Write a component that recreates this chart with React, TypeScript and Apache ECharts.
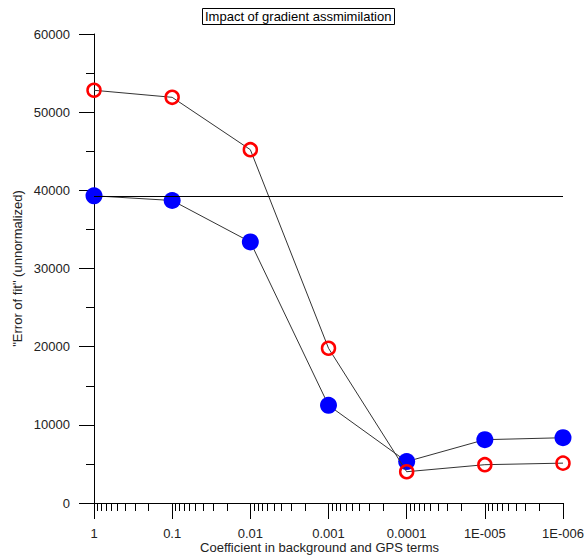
import React, { useEffect, useRef } from "react";
import * as echarts from "echarts";

const coefficients = [1, 0.1, 0.01, 0.001, 0.0001, 0.00001, 0.000001];
const xTickLabels = ["1", "0.1", "0.01", "0.001", "0.0001", "1E-005", "1E-006"];
const withGradient = [39300, 38700, 33400, 12500, 5300, 8100, 8350];
const withoutGradient = [52800, 51900, 45200, 19800, 4000, 4900, 5100];
const minorMultipliers = [9, 8, 7, 6, 5, 4, 3, 2];

const FONT = "Liberation Sans, Arial, sans-serif";
const FS = 13;

export default function App() {
  const ref = useRef<HTMLDivElement>(null);
  useEffect(() => {
    if (!ref.current) return;
    const chart = echarts.init(ref.current, null, { renderer: "svg" });
    const toX = (c: number) => -Math.log10(c);
    const minorTicks: number[] = [];
    for (let d = 0; d < 6; d++) {
      for (const k of minorMultipliers) minorTicks.push(toX(k * Math.pow(10, -(d + 1))));
    }
    const blueData = coefficients.map((c, i) => [toX(c), withGradient[i]]);
    const redData = coefficients.map((c, i) => [toX(c), withoutGradient[i]]);
    chart.setOption({
      animation: false,
      backgroundColor: "#ffffff",
      textStyle: { fontFamily: FONT },
      title: {
        text: "Impact of gradient assmimilation",
        left: 202,
        top: 8,
        padding: [2, 3],
        borderColor: "#000",
        borderWidth: 1,
        textStyle: { fontSize: FS, fontWeight: "normal", color: "#000", fontFamily: FONT },
      },
      grid: { left: 94, right: 21, top: 34, bottom: 54, containLabel: false, outerBoundsMode: "none" },
      xAxis: [
        {
          type: "value",
          min: 0,
          max: 6,
          interval: 1,
          position: "bottom",
          name: "Coefficient in background and GPS terms",
          nameLocation: "middle",
          nameGap: 38,
          nameMoveOverlap: false,
          nameTextStyle: {
            fontSize: FS,
            lineHeight: 13,
            color: "#222",
            fontFamily: FONT,
            padding: [0, 18, 0, 0],
          },
          axisLine: { show: true, lineStyle: { color: "#000", width: 1 } },
          axisTick: { show: true, inside: false, length: 16, lineStyle: { color: "#000" } },
          axisLabel: {
            margin: 24,
            fontSize: FS,
            lineHeight: 13,
            color: "#222",
            fontFamily: FONT,
            formatter: (v: number) => xTickLabels[Math.round(v)] ?? "",
          },
          splitLine: { show: false },
        },
        {
          type: "value",
          min: 0,
          max: 6,
          position: "bottom",
          axisLine: { show: false },
          axisTick: {
            show: true,
            inside: false,
            length: 8,
            customValues: minorTicks,
            lineStyle: { color: "#000" },
          },
          axisLabel: { show: false },
          splitLine: { show: false },
        },
      ],
      yAxis: {
        type: "value",
        min: 0,
        max: 60000,
        interval: 10000,
        name: '"Error of fit" (unnormalized)',
        nameLocation: "middle",
        nameGap: 70,
        nameMoveOverlap: false,
        nameTextStyle: { fontSize: FS, color: "#222", fontFamily: FONT },
        axisLine: { show: true, lineStyle: { color: "#000", width: 1 } },
        axisTick: { show: true, inside: false, length: 15, lineStyle: { color: "#000" } },
        minorTick: { show: true, splitNumber: 2, length: 8, lineStyle: { color: "#000" } },
        axisLabel: {
          margin: 24,
          fontSize: FS,
          color: "#222",
          fontFamily: FONT,
          formatter: (v: number) => String(v),
        },
        splitLine: { show: false },
      },
      series: [
        {
          name: "with gradient",
          type: "line",
          data: blueData,
          symbol: "circle",
          symbolSize: 17,
          itemStyle: { color: "#0000ff" },
          lineStyle: { color: "#333", width: 1 },
          markLine: {
            silent: true,
            symbol: ["none", "none"],
            label: { show: false },
            lineStyle: { color: "#000", width: 1, type: "solid" },
            data: [{ yAxis: withGradient[0] }],
          },
          z: 2,
        },
        {
          name: "without gradient",
          type: "line",
          data: redData,
          symbol: "circle",
          symbolSize: 13,
          itemStyle: { color: "rgba(0,0,0,0)", borderColor: "#ff0000", borderWidth: 2.5 },
          lineStyle: { color: "#333", width: 1 },
          z: 3,
        },
      ],
    });
    return () => chart.dispose();
  }, []);
  return (
    <div
      ref={ref}
      style={{ position: "fixed", left: 0, top: 0, width: 584, height: 557 }}
    />
  );
}
